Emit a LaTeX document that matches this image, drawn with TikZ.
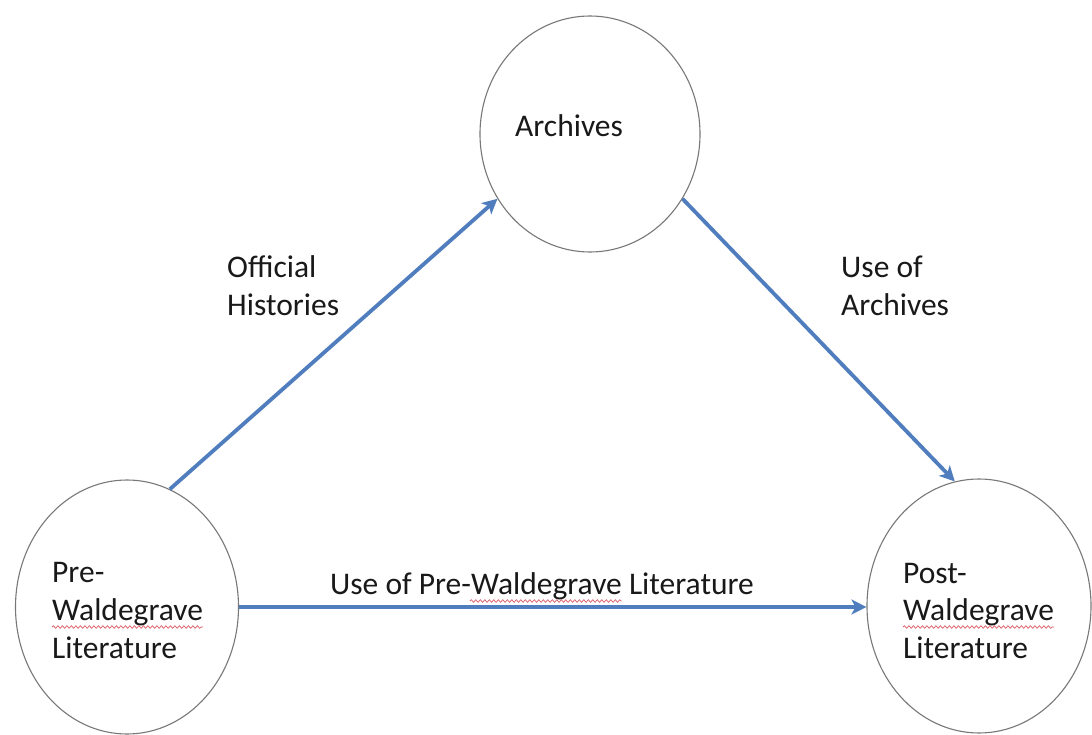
\documentclass[tikz,border=0pt]{standalone}
\usepackage{fontspec}
\setmainfont{Carlito}
\usetikzlibrary{shapes.geometric,arrows.meta,decorations.pathmorphing,calc}
\definecolor{arrowblue}{RGB}{79,125,189}
\definecolor{ringgray}{RGB}{120,120,120}
\definecolor{txt}{RGB}{25,25,25}
\definecolor{spell}{RGB}{220,90,100}
\begin{document}
\begin{tikzpicture}[x=1pt,y=-1pt,
 ring/.style={ellipse,draw=ringgray,line width=1.1pt,inner sep=0pt},
 txtline/.style={anchor=base west,inner sep=0pt,text=txt,font=\fontsize{31.5}{38}\selectfont},
 flow/.style={draw=arrowblue,line width=3.8pt,-{Stealth[length=15pt,width=15pt,inset=4pt]}},
 squiggle/.style={draw=spell,line width=0.7pt,decorate,decoration={snake,amplitude=1.3pt,segment length=4.5pt}}]
\useasboundingbox (0,0) rectangle (1092,735);
\clip (0,0) rectangle (1092,735);
\fill[white] (0,0) rectangle (1092,735);
% circles
\node[ring,minimum width=220pt,minimum height=236pt] (arch) at (590,134) {};
\node[ring,minimum width=223pt,minimum height=254pt] (pre) at (127,607) {};
\node[ring,minimum width=224pt,minimum height=254pt] (post) at (979,606) {};
% texts
\node[txtline] (archT) at (515,137) {Archives};
\node[txtline] (offA) at (227,278) {Official};
\node[txtline] (offB) at (227,316) {Histories};
\node[txtline] (useA) at (841,278) {Use of};
\node[txtline] (useB) at (841,316) {Archives};
\node[txtline] (preA) at (52,582) {Pre-};
\node[txtline] (preB) at (52,620) {Waldegrave};
\node[txtline] (preC) at (52,658) {Literature};
\node[txtline] (postA) at (903,583) {Post-};
\node[txtline] (postB) at (903,620) {Waldegrave};
\node[txtline] (postC) at (903,658) {Literature};
\node[txtline] (horiz) at (330,594) {Use of Pre-Waldegrave Literature};
% spell-check squiggles
\draw[squiggle] ([yshift=-7pt]preB.base west) -- ([yshift=-7pt]preB.base east);
\draw[squiggle] ([yshift=-7pt]postB.base west) -- ([yshift=-7pt]postB.base east);
\draw[squiggle] ($(horiz.base west)!0.330!(horiz.base east)+(0,7)$) -- ($(horiz.base west)!0.688!(horiz.base east)+(0,7)$);
% arrows
\draw[flow] (pre.70) -- (arch.215);
\draw[flow] (arch.325) -- (post.101);
\draw[flow] (pre.east) -- (pre.east -| post.west);
\end{tikzpicture}
\end{document}
